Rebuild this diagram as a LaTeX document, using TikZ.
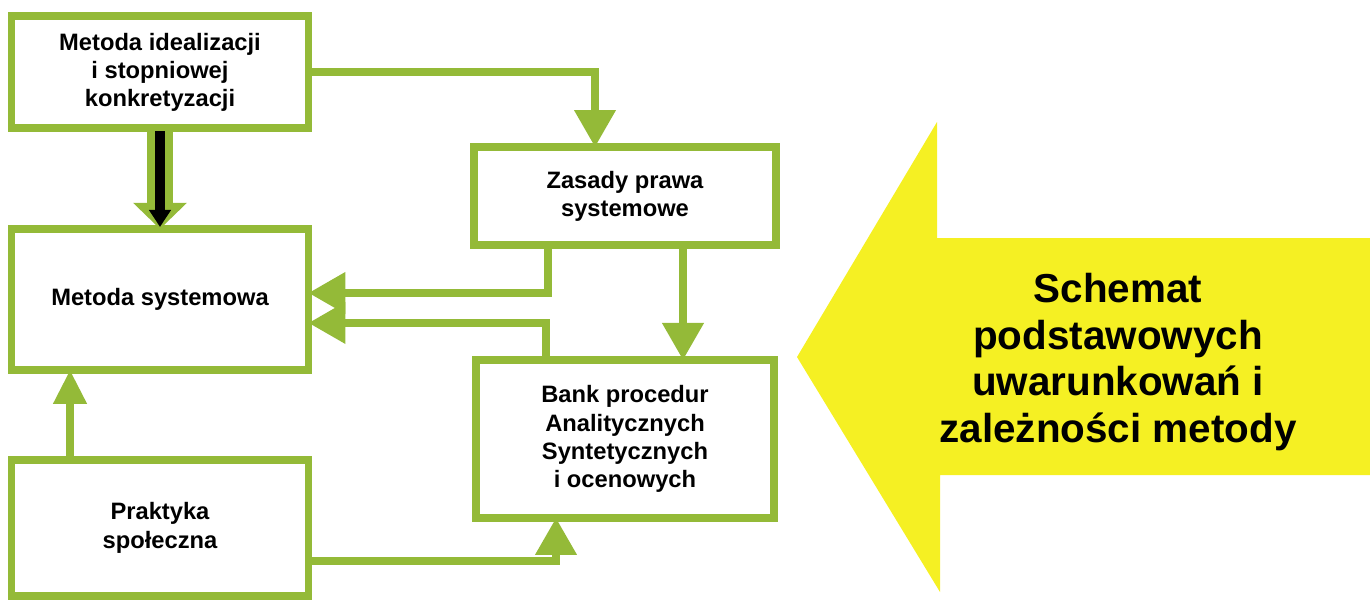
\documentclass[tikz,border=0pt]{standalone}
\usepackage{fontspec}
\setmainfont{Liberation Sans}
\usepackage{xcolor}
\usepackage{tikz}
\usetikzlibrary{arrows.meta,positioning}

\definecolor{leaf}{RGB}{148,186,56}
\definecolor{sun}{RGB}{245,240,35}

\begin{document}
\begin{tikzpicture}[
    x=0.02cm, y=-0.02cm,
    node distance=2cm,
    box/.style={rectangle, draw=leaf, fill=white, line width=0.15cm, outer sep=0pt, align=center, minimum width=5.94cm, font=\fontsize{13.5}{16}\selectfont\bfseries},
    arr/.style={-{Triangle[length=0.74cm, width=0.8cm]}, line width=0.15cm, draw=leaf},
    title/.style={align=center, font=\fontsize{23}{26.5}\selectfont\bfseries}
]
    \useasboundingbox (0,0) rectangle (1370,599);

    \node [box, minimum height=2.24cm] (n1) at (160,72) {Metoda idealizacji\\i stopniowej\\konkretyzacji};
    \node [box, minimum height=2.82cm, below=2.02cm of n1] (n2) {Metoda systemowa};
    \node [box, minimum height=2.72cm, below=1.8cm of n2] (n3) {Praktyka\\społeczna};
    \node [box, minimum width=6.04cm, minimum height=1.96cm] (n4) at (625,196) {Zasady prawa\\systemowe};
    \node [box, minimum width=5.96cm, minimum height=3.16cm, below=2.3cm of n4] (n5) {Bank procedur\\Analitycznych\\Syntetycznych\\i ocenowych};

    \fill [sun] (1370,238) -- (937,238) -- (937,122) -- (797,357) -- (940,592) -- (940,475) -- (1370,475) -- cycle;
    \node [title] (t1) at (1118,362) {Schemat\\podstawowych\\uwarunkowań i\\zależności metody};

    \draw [leaf, line width=0.54cm, -{Triangle[length=0.52cm, width=1.04cm]}] (n1) -- (n2);
    \draw [black, line width=0.2cm, -{Triangle[length=0.34cm, width=0.42cm]}] ([yshift=-0.07cm]n1.south) -- ([yshift=0.04cm]n2.north);

    \draw [arr] (n1.east) -| ([xshift=-0.6cm]n4.north);
    \draw [arr] ([xshift=-1.54cm]n4.south) |- ([yshift=0.13cm]n2.east);
    \draw [arr] ([xshift=-1.58cm]n5.north) |- ([yshift=-0.47cm]n2.east);
    \draw [arr] ([xshift=1.16cm]n4.south) -- ([xshift=1.16cm]n5.north);
    \draw [arr, -{Triangle[length=0.68cm, width=0.64cm]}] ([xshift=-1.8cm]n3.north) -- ([xshift=-1.8cm]n2.south);
    \draw [arr] ([yshift=-0.66cm]n3.east) -| ([xshift=-1.38cm]n5.south);
\end{tikzpicture}
\end{document}
